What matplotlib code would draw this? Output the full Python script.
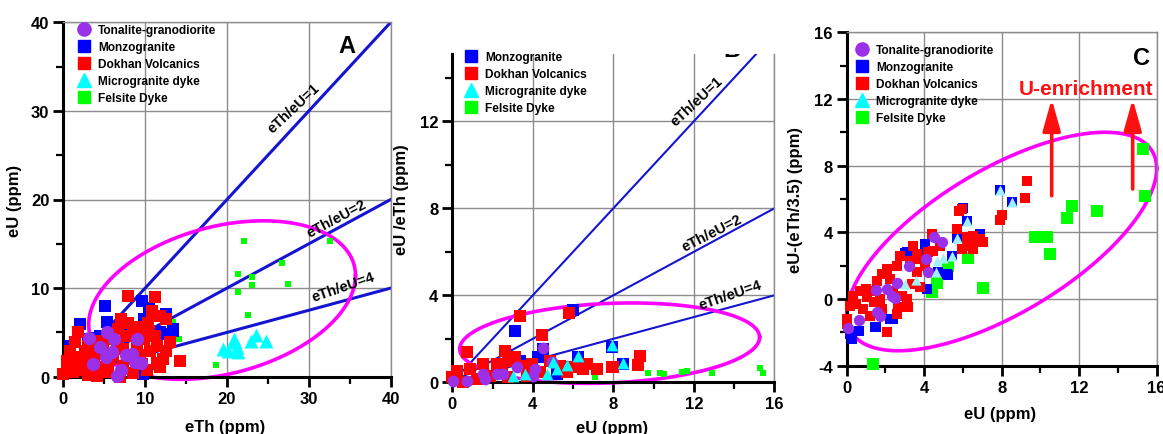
import numpy as np
import matplotlib
matplotlib.use("Agg")
import matplotlib.pyplot as plt
from matplotlib.lines import Line2D

plt.rcParams['font.family'] = ['Liberation Sans', 'DejaVu Sans']
plt.rcParams['font.weight'] = 'bold'
plt.rcParams['axes.unicode_minus'] = False

# ---------------- DATA ----------------
series_names = ["Tonalite-granodiorite", "Monzogranite", "Dokhan Volcanics",
                "Microgranite dyke", "Felsite Dyke"]
ratio_lines = [1, 2, 4]

# Panel A: eTh (x) vs eU (y)
a_ton_eth = [3.1, 3.6, 4.5, 5.2, 5.4, 5.9, 6.2, 6.5, 7.0, 7.7, 8.4, 8.8, 9.0, 9.5]
a_ton_eu = [4.4, 1.4, 3.3, 2.2, 5.0, 2.75, 4.2, 0.1, 0.8, 2.4, 2.6, 1.7, 4.2, 1.6]
a_mon_eth = [5.1, 5.4, 9.6, 13.4, 2.0, 9.7, 11.6, 12.6, 4.1, 9.8, 10.5, 11.8, 4.5, 7.5, 12.0, 3.0, 0.8, 13.4]
a_mon_eu = [8.0, 6.2, 8.6, 5.2, 5.9, 0.3, 1.4, 7.1, 4.4, 6.5, 7.8, 5.0, 4.6, 5.5, 4.8, 4.3, 3.5, 5.4]
a_dok_eth = [7.9, 11.2, 10.8, 11.8, 12.5, 10.4, 7.9, 9.4, 7.7, 6.1, 1.83, 1.43, 0.82, 2.0, 4.9, 6.1,
             10.6, 12.6, 14.3, 12.2, 0.4, 2.4, 4.9, 7.3, 9.6, 11.4, 3.7, 0.4, 1.2, 4.1, 6.9, 5.7,
             9.0, 9.8, 11.2, 11.4, 13.0, 3.05, 4.1, 7.3, 8.15, 9.4, 7.1, 6.7, 8.55, 1.6, 2.65, 5.3,
             10.2, 11.8, 0.0, 4.7, 3.5, 5.5, 8.5, 3.0, 6.5, 2.8, 10.5]
a_dok_eu = [9.1, 8.96, 7.45, 6.9, 6.5, 6.1, 6.1, 5.6, 4.6, 4.25, 5.0, 3.9, 2.9, 2.2, 3.1, 2.4,
            2.9, 2.9, 1.8, 2.0, 0.7, 0.7, 1.06, 1.24, 1.43, 1.6, 1.24, 1.8, 0.5, 0.1, 0.0, 2.0,
            3.7, 4.25, 4.6, 3.5, 3.9, 3.5, 2.6, 3.1, 2.4, 2.4, 6.5, 5.4, 5.0, 1.6, 2.9, 0.5,
            0.7, 1.06, 0.3, 4.06, 4.06, 0.6, 0.4, 0.2, 3.6, 1.9, 5.2]
a_mic_eth = [19.5, 20.1, 20.8, 21.0, 21.2, 21.3, 22.9, 23.5, 24.8]
a_mic_eu = [3.1, 2.9, 4.2, 3.9, 3.3, 2.8, 4.0, 4.7, 4.0]
a_fel_eth = [22.1, 32.6, 26.7, 21.4, 23.1, 23.1, 27.4, 21.3, 22.6, 18.6, 13.4, 14.1]
a_fel_eu = [15.3, 15.35, 12.8, 11.6, 11.3, 10.3, 10.5, 9.6, 7.0, 1.3, 6.2, 4.3]

# Panel B: eU (x) vs eU/eTh (y)
b_ton_eu = [4.52, 0.05, 0.72, 1.54, 1.62, 2.2, 2.53, 3.2, 4.11, 4.95, 4.02]
b_ton_y = [1.6, 0.07, 0.07, 0.38, 0.15, 0.38, 0.38, 0.69, 0.61, 0.92, 0.3]
b_mon_eu = [3.12, 5.98, 4.52, 4.27, 6.23, 7.92, 8.5, 5.19, 5.52, 3.36]
b_mon_y = [2.37, 3.34, 1.53, 1.15, 1.15, 1.61, 0.84, 0.38, 0.69, 0.99]
b_dok_eu = [3.36, 5.81, 4.44, 0.72, 2.62, 3.12, 1.54, 0.22, 0.88, 2.2, 3.45, 2.78, 3.95, 4.85,
            5.35, 6.01, 6.51, 7.18, 7.92, 1.87, 1.21, 0.55, 4.36, 3.7, 6.68, 5.68, 2.78, 2.45,
            0.0, 9.24, 9.32, 8.0]
b_dok_y = [3.06, 3.2, 2.17, 1.38, 1.45, 1.15, 0.84, 0.53, 0.61, 0.84, 0.77, 0.99, 0.84, 0.99,
           0.77, 0.69, 0.61, 0.61, 0.69, 0.3, 0.15, 0.0, 0.46, 0.3, 0.84, 0.46, 0.23, 0.69,
           0.23, 0.8, 1.19, 0.69]
b_mic_eu = [6.23, 7.92, 8.5, 5.68, 5.19, 4.69, 3.61, 3.03, 4.99]
b_mic_y = [1.2, 1.7, 0.9, 0.8, 0.6, 0.38, 0.38, 0.3, 0.92]
b_fel_eu = [9.74, 10.32, 10.52, 11.4, 11.65, 12.9, 15.29, 15.42, 7.09]
b_fel_y = [0.43, 0.43, 0.36, 0.49, 0.53, 0.43, 0.64, 0.43, 0.23]

# Panel C: eU (x) vs eU-(eTh/3.5) (y)
c_ton_eu = [0.09, 0.65, 1.51, 1.58, 1.72, 2.06, 2.32, 2.49, 2.58, 3.22, 4.1, 4.21, 4.51, 4.9]
c_ton_y = [-1.76, -1.26, 0.54, -0.8, -1.0, 0.6, 0.2, 0.04, 0.96, 2.0, 2.4, 1.64, 3.7, 3.4]
c_mon_eu = [0.26, 0.65, 1.51, 2.41, 7.91, 8.52, 5.99, 6.19, 5.24, 4.06, 3.01, 3.1, 4.04, 4.73,
            5.16, 4.13, 0.17, 1.46, 2.23, 6.88, 5.68, 5.42]
c_mon_y = [-2.4, -1.9, -1.7, -1.2, 6.56, 5.8, 5.46, 4.7, 1.44, 3.0, 2.74, 2.8, 3.3, 1.6,
           1.5, 0.6, -2.1, -1.7, -1.2, 3.9, 3.64, 2.6]
c_dok_eu = [4.39, 4.82, 4.47, 5.68, 6.19, 6.71, 7.05, 5.94, 6.54, 3.44, 2.75, 2.58, 3.27, 3.78,
            2.06, 2.23, 1.55, 1.81, 3.61, 3.35, 2.84, 2.41, 3.1, 3.78, 0.69, 0.34, 1.03, 1.37,
            0.17, 0.86, 1.81, 2.66, 0.0, 1.2, 2.06, 2.58, 3.18, 1.72, 4.04, 4.21, 3.61, 9.29,
            9.2, 8.0, 7.91, 5.94, 6.88, 6.54, 6.19, 5.81, 0.0, 0.5, 1.0, 1.4]
c_dok_y = [3.9, 3.2, 2.9, 4.2, 3.7, 3.6, 3.4, 3.0, 3.0, 3.2, 2.6, 2.0, 2.3, 2.4,
           1.8, 1.2, 1.1, 1.5, 1.6, 0.9, 0.2, 0.5, 0.0, 0.7, 0.5, 0.2, 0.1, 0.5,
           -0.4, -0.6, -0.6, -0.5, -1.2, -1.0, -2.0, -0.9, -0.5, 0.0, 2.0, 2.8, 2.7, 7.1,
           6.04, 5.04, 4.76, 5.4, 3.6, 3.8, 3.2, 5.3, -1.5, -0.3, 0.6, -0.2]
c_mic_eu = [7.91, 8.52, 6.19, 5.68, 5.42, 4.99, 4.65, 4.6, 3.58, 3.01]
c_mic_y = [6.56, 5.8, 4.7, 3.64, 2.6, 2.46, 2.26, 1.6, 1.16, 0.9]
c_fel_eu = [15.31, 15.4, 11.61, 11.35, 12.9, 9.72, 10.32, 10.49, 7.05, 6.28, 5.24, 4.65, 4.39, 1.37]
c_fel_y = [9.0, 6.16, 5.56, 4.86, 5.3, 3.7, 3.7, 2.7, 0.66, 2.44, 2.0, 0.96, 0.4, -3.9]

# ---------------- STYLE ----------------
PURPLE = '#9a30e8'
BLUE = '#0000ff'
RED = '#ff0000'
CYAN = '#00ffff'
CYAN_C = '#a0f0fa'
GREEN = '#00ff00'
LINEBLUE = '#1414d2'
MAGENTA = '#ff00ff'

W, H = 1163, 435
fig = plt.figure(figsize=(W / 100, H / 100), dpi=100)


def px_axes(l, r, t, b):
    return fig.add_axes([l / W, (H - b) / H, (r - l) / W, (b - t) / H])


def style_axes(ax, xmaj, ymaj, xmin, ymin, top_spine=True):
    ax.set_xticks(xmaj)
    ax.set_yticks(ymaj)
    ax.set_xticks(xmin, minor=True)
    ax.set_yticks(ymin, minor=True)
    ax.grid(True, which='major', color='#8c8c8c', lw=1.0, zorder=0)
    ax.set_axisbelow(True)
    for s in ['left', 'bottom']:
        ax.spines[s].set_linewidth(2.2)
        ax.spines[s].set_color('black')
    ax.spines['right'].set_color('#8c8c8c')
    ax.spines['right'].set_linewidth(1.0)
    if top_spine:
        ax.spines['top'].set_color('#8c8c8c')
        ax.spines['top'].set_linewidth(1.0)
    else:
        ax.spines['top'].set_visible(False)
    ax.tick_params(which='major', direction='out', length=7, width=2,
                   labelsize=12, pad=3)
    ax.tick_params(which='minor', direction='out', length=5, width=1.6)
    ax.tick_params(top=False, right=False, which='both')
    for lab in ax.get_xticklabels() + ax.get_yticklabels():
        lab.set_fontweight('bold')


def ellipse(ax, cx, cy, wx, ay, by):
    t = np.linspace(0, 2 * np.pi, 300)
    ax.plot(cx + wx * np.cos(t), cy + ay * np.cos(t) + by * np.sin(t),
            color=MAGENTA, lw=2.6, zorder=2, clip_on=False)


def legend(ax, entries, x0, y0, fs=8.6):
    handles = []
    for name in entries:
        if name == "Tonalite-granodiorite":
            h = Line2D([], [], ls='none', marker='o', ms=9.5, mfc=PURPLE, mec=PURPLE)
        elif name == "Monzogranite":
            h = Line2D([], [], ls='none', marker='s', ms=8.5, mfc=BLUE, mec=BLUE)
        elif name == "Dokhan Volcanics":
            h = Line2D([], [], ls='none', marker='s', ms=8.5, mfc=RED, mec=RED)
        elif name == "Microgranite dyke":
            h = Line2D([], [], ls='none', marker='^', ms=9.5, mfc=CYAN, mec=CYAN)
        else:
            h = Line2D([], [], ls='none', marker='s', ms=8, mfc=GREEN, mec=GREEN)
        handles.append(h)
    leg = ax.legend(handles, entries, loc='upper left', bbox_to_anchor=(x0, y0),
                    frameon=False, prop={'weight': 'bold', 'size': fs},
                    handlelength=1.0, handletextpad=0.7, labelspacing=0.42,
                    borderaxespad=0, borderpad=0)
    leg.set_zorder(10)


# ================= Panel A =================
axA = px_axes(63.3, 390.7, 23.3, 377.7)
axA.set_xlim(0, 40)
axA.set_ylim(0, 40)
style_axes(axA, [0, 10, 20, 30, 40], [0, 10, 20, 30, 40],
           [5, 15, 25, 35], [5, 15, 25, 35])
xx = np.array([0, 40])
for r in ratio_lines:
    axA.plot(xx, xx / r, color=LINEBLUE, lw=2.2, zorder=1)
ellipse(axA, 19.4, 8.65, 16.3, 2.76, 8.51)
axA.scatter(a_fel_eth, a_fel_eu, marker='s', s=20, c=GREEN, lw=0, zorder=3, clip_on=False)
axA.scatter(a_mon_eth, a_mon_eu, marker='s', s=80, c=BLUE, lw=0, zorder=4, clip_on=False)
axA.scatter(a_dok_eth, a_dok_eu, marker='s', s=80, c=RED, lw=0, zorder=5, clip_on=False)
axA.scatter(a_ton_eth, a_ton_eu, marker='o', s=92, c=PURPLE, lw=0, zorder=6, clip_on=False)
axA.scatter(a_mic_eth, a_mic_eu, marker='^', s=100, c=CYAN, lw=0, zorder=7, clip_on=False)
axA.text(28.1, 30.4, "eTh/eU=1", rotation=43, ha='center', va='center', fontsize=10.5, fontweight='bold')
axA.text(33.4, 17.9, "eTh/eU=2", rotation=28, ha='center', va='center', fontsize=10.5, fontweight='bold')
axA.text(34.2, 10.2, "eTh/eU=4", rotation=19, ha='center', va='center', fontsize=10.5, fontweight='bold')
axA.text(34.6, 37.4, "A", ha='center', va='center', fontsize=17, fontweight='bold')
axA.set_xlabel("eTh (ppm)", fontsize=12, fontweight='bold')
axA.set_ylabel("eU (ppm)", fontsize=12, fontweight='bold')
axA.xaxis.set_label_coords(0.494, -0.12)
axA.yaxis.set_label_coords(-0.125, 0.5)
legend(axA, series_names, 0.045, 0.995)

# ================= Panel B =================
axB = px_axes(452.3, 774.3, 55, 383.3)
axB.set_xlim(0, 16)
axB.set_ylim(0, 15.1)
style_axes(axB, [0, 4, 8, 12, 16], [0, 4, 8, 12],
           [2, 6, 10, 14], [2, 6, 10, 14], top_spine=False)
xx = np.array([0, 16])
for r in ratio_lines:
    axB.plot(xx, xx / r, color=LINEBLUE, lw=1.5, zorder=1)
ellipse(axB, 7.82, 1.8, 7.45, 0.27, 1.83)
axB.scatter(b_fel_eu, b_fel_y, marker='s', s=18, c=GREEN, lw=0, zorder=3, clip_on=False)
axB.scatter(b_mon_eu, b_mon_y, marker='s', s=66, c=BLUE, lw=0, zorder=4, clip_on=False)
axB.scatter(b_dok_eu, b_dok_y, marker='s', s=66, c=RED, lw=0, zorder=5, clip_on=False)
axB.scatter(b_ton_eu, b_ton_y, marker='o', s=72, c=PURPLE, lw=0, zorder=6, clip_on=False)
axB.scatter(b_mic_eu, b_mic_y, marker='^', s=72, c=CYAN, lw=0, zorder=7, clip_on=False)
axB.text(12.14, 12.95, "eTh/eU=1", rotation=43, ha='center', va='center', fontsize=10.5, fontweight='bold')
axB.text(12.89, 6.9, "eTh/eU=2", rotation=27, ha='center', va='center', fontsize=10.5, fontweight='bold')
axB.text(13.8, 4.06, "eTh/eU=4", rotation=19, ha='center', va='center', fontsize=10.5, fontweight='bold')
axB.text(13.9, 15.3, "B", ha='center', va='center', fontsize=17, fontweight='bold', clip_on=True)
axB.set_xlabel("eU (ppm)", fontsize=12, fontweight='bold')
axB.set_ylabel("eU /eTh (ppm)", fontsize=12, fontweight='bold')
axB.xaxis.set_label_coords(0.495, -0.115)
axB.yaxis.set_label_coords(-0.135, 0.56)
legend(axB, series_names[1:], 0.04, 1.01)

# ================= Panel C =================
axC = px_axes(846.7, 1156.7, 33.3, 366.7)
axC.set_xlim(0, 16)
axC.set_ylim(-4, 16)
style_axes(axC, [0, 4, 8, 12, 16], [-4, 0, 4, 8, 12, 16],
           [2, 6, 10, 14], [-2, 2, 6, 10, 14])
ellipse(axC, 8.0, 3.45, 8.0, 4.375, 4.88)
axC.scatter(c_fel_eu, c_fel_y, marker='s', s=64, c=GREEN, lw=0, zorder=3, clip_on=False)
axC.scatter(c_mon_eu, c_mon_y, marker='s', s=62, c=BLUE, lw=0, zorder=4, clip_on=False)
axC.scatter(c_dok_eu, c_dok_y, marker='s', s=62, c=RED, lw=0, zorder=5, clip_on=False)
axC.scatter(c_ton_eu, c_ton_y, marker='o', s=66, c=PURPLE, lw=0, zorder=6, clip_on=False)
axC.scatter(c_mic_eu, c_mic_y, marker='^', s=54, c=CYAN_C, lw=0, zorder=7, clip_on=False)
for xa, y0 in [(10.58, 6.2), (14.76, 6.6)]:
    axC.annotate("", xy=(xa, 12.0), xytext=(xa, y0),
                 arrowprops=dict(arrowstyle='-|>,head_length=1.6,head_width=0.45',
                                 mutation_scale=12, color='#ff1010', lw=2.6,
                                 shrinkA=0, shrinkB=0), zorder=8)
axC.text(12.35, 12.6, "U-enrichment", color='#ff1010', ha='center', va='center',
         fontsize=15, fontweight='bold', zorder=9)
axC.text(15.2, 14.5, "C", ha='center', va='center', fontsize=17, fontweight='bold')
axC.set_xlabel("eU (ppm)", fontsize=12, fontweight='bold')
axC.set_ylabel("eU-(eTh/3.5) (ppm)", fontsize=12, fontweight='bold')
axC.xaxis.set_label_coords(0.495, -0.12)
axC.yaxis.set_label_coords(-0.14, 0.5)
legend(axC, series_names, 0.03, 0.965)

fig.savefig("out.png", dpi=100)
